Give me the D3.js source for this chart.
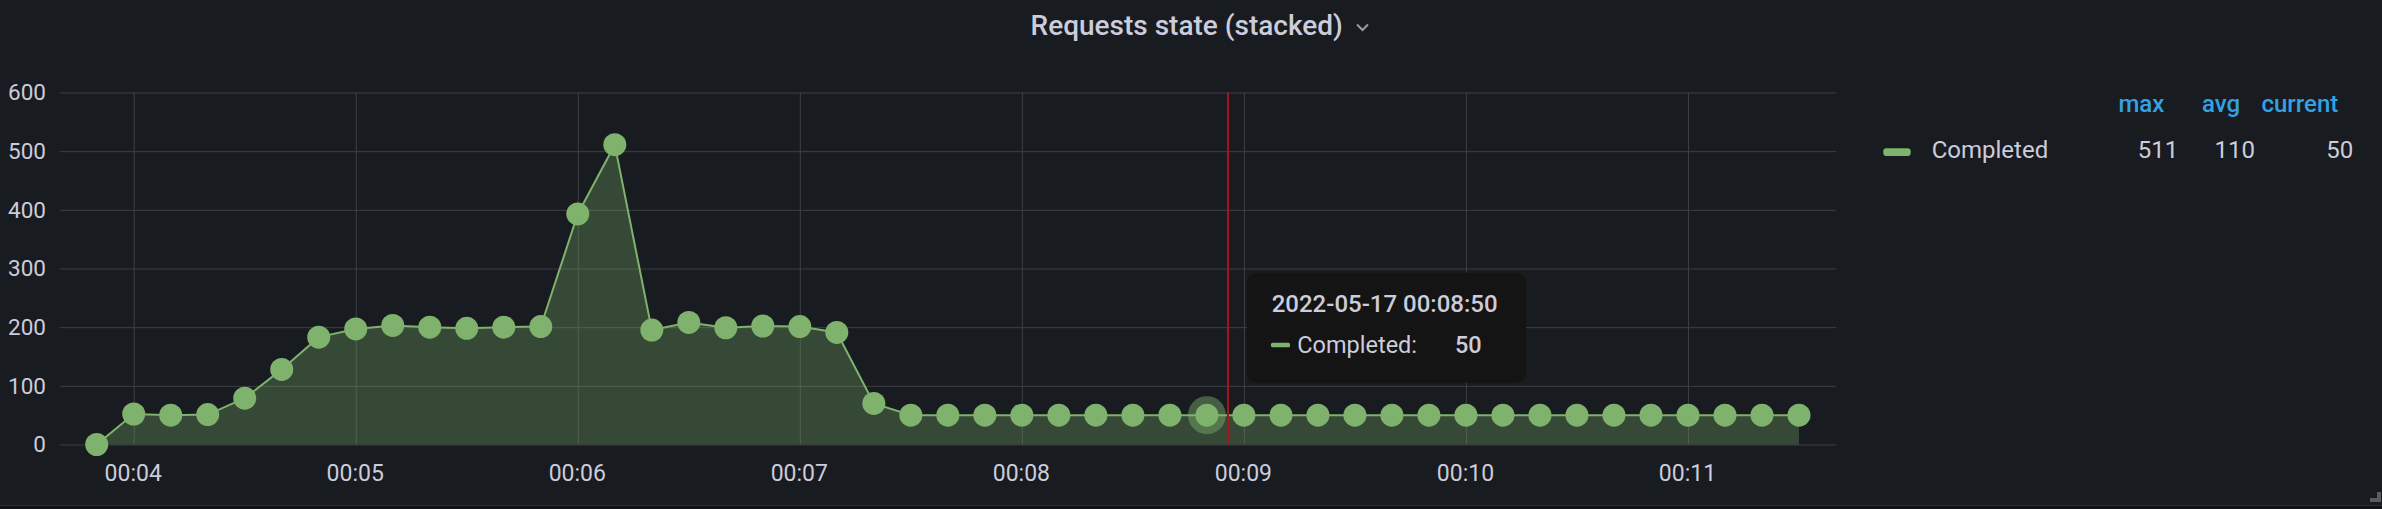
<!DOCTYPE html>
<html>
<head>
<meta charset="utf-8">
<script src="https://cdn.jsdelivr.net/npm/d3@7"></script>
<style>
  html, body { margin: 0; padding: 0; background: #181b1f; }
  svg { display: block; font-family: Roboto, "Noto Sans", sans-serif; }
</style>
</head>
<body>
<svg id="chart" width="2382" height="509"></svg>
<script>
// ---- data ----
const day = "2022-05-17";
const times = [
  "00:03:50","00:04:00","00:04:10","00:04:20","00:04:30","00:04:40","00:04:50",
  "00:05:00","00:05:10","00:05:20","00:05:30","00:05:40","00:05:50",
  "00:06:00","00:06:10","00:06:20","00:06:30","00:06:40","00:06:50",
  "00:07:00","00:07:10","00:07:20","00:07:30","00:07:40","00:07:50",
  "00:08:00","00:08:10","00:08:20","00:08:30","00:08:40","00:08:50",
  "00:09:00","00:09:10","00:09:20","00:09:30","00:09:40","00:09:50",
  "00:10:00","00:10:10","00:10:20","00:10:30","00:10:40","00:10:50",
  "00:11:00","00:11:10","00:11:20","00:11:30"
];
const completed = [
  0, 52, 50, 51, 79, 128, 183,
  197, 203, 200, 198, 200, 201,
  393, 511, 195, 208, 199, 202,
  201, 191, 70, 50, 50, 50,
  50, 50, 50, 50, 50, 50,
  50, 50, 50, 50, 50, 50,
  50, 50, 50, 50, 50, 50,
  50, 50, 50, 50
];
const seriesName = "Completed";
const yTickValues = [0, 100, 200, 300, 400, 500, 600];
const xDomainTimes = ["00:03:40", "00:11:40"];
const hoverTime = "00:08:50";
const cursorTime = "00:08:55.7";
const title = "Requests state (stacked)";
const statHeaders = ["max", "avg", "current"];

// ---- setup ----
const parse = d3.timeParse("%Y-%m-%d %H:%M:%S");
const parseCursor = s => { const [hms, frac] = s.split("."); return new Date(parse(day + " " + hms).getTime() + (frac ? +("0." + frac) * 1000 : 0)); };
const data = times.map((t, i) => ({ t: parse(day + " " + t), v: completed[i] }));

const svg = d3.select("#chart");
const W = 2382, H = 509;
const plot = { left: 59.7, right: 1836, top: 92.5, bottom: 444.5 };

const x = d3.scaleTime()
  .domain(xDomainTimes.map(s => parse(day + " " + s)))
  .range([plot.left, plot.right]);
const y = d3.scaleLinear().domain([0, 600]).range([plot.bottom, plot.top]);

const green = "#7eb26d";
const gridColor = "#3d3f44";
const textColor = "#ccccdc";

// background and bottom border
svg.append("rect").attr("x", 0).attr("y", 0).attr("width", W).attr("height", H).attr("fill", "#181b1f");
svg.append("rect").attr("x", 0).attr("y", 505).attr("width", W).attr("height", 1).attr("fill", "#2a2d33");
svg.append("rect").attr("x", 0).attr("y", 506).attr("width", W).attr("height", 3).attr("fill", "#111217");

// title
svg.append("text")
  .attr("x", 1186.7).attr("y", 35)
  .attr("text-anchor", "middle")
  .attr("font-size", 28).attr("font-weight", 500)
  .attr("fill", textColor)
  .text(title);
svg.append("path")
  .attr("d", "M1357,24.5 L1362.5,30 L1368,24.5")
  .attr("fill", "none").attr("stroke", "#9a9ca3").attr("stroke-width", 2);

// grid: horizontal
const gY = svg.append("g").attr("transform", `translate(${plot.left},0)`)
  .call(d3.axisLeft(y).tickValues(yTickValues).tickSize(-(plot.right - plot.left)).tickFormat(""));
gY.select(".domain").remove();
gY.selectAll("line").attr("stroke", gridColor).attr("stroke-width", 1);

// grid: vertical
const gX = svg.append("g").attr("transform", `translate(0,${plot.bottom})`)
  .call(d3.axisBottom(x).ticks(d3.timeMinute.every(1)).tickSize(-(plot.bottom - plot.top)).tickFormat(""));
gX.select(".domain").remove();
gX.selectAll("line").attr("stroke", gridColor).attr("stroke-width", 1);

// axis labels
const yLab = svg.append("g").attr("transform", `translate(46,0)`)
  .call(d3.axisLeft(y).tickValues(yTickValues).tickSize(0).tickPadding(0));
yLab.select(".domain").remove();
yLab.selectAll("text").attr("fill", textColor).attr("font-size", 22.5)
  .attr("font-family", "Roboto").attr("text-anchor", "end");

const xLab = svg.append("g").attr("transform", `translate(-1,${plot.bottom})`)
  .call(d3.axisBottom(x).ticks(d3.timeMinute.every(1)).tickFormat(d3.timeFormat("%H:%M")).tickSize(0).tickPadding(20));
xLab.select(".domain").remove();
xLab.selectAll("text").attr("fill", textColor).attr("font-size", 23).attr("font-family", "Roboto");

// area + line
const area = d3.area().x(d => x(d.t)).y0(y(0)).y1(d => y(d.v));
const line = d3.line().x(d => x(d.t)).y(d => y(d.v));
svg.append("path").datum(data).attr("d", area).attr("fill", green).attr("fill-opacity", 0.3);
svg.append("path").datum(data).attr("d", line).attr("fill", "none").attr("stroke", green).attr("stroke-width", 2);

// hover halo
const hoverDate = parse(day + " " + hoverTime);
const hoverIdx = data.findIndex(d => +d.t === +hoverDate);
const hp = data[hoverIdx];
svg.append("circle").attr("cx", x(hp.t)).attr("cy", y(hp.v)).attr("r", 19)
  .attr("fill", green).attr("fill-opacity", 0.45);

// points
svg.append("g").selectAll("circle").data(data).join("circle")
  .attr("cx", d => x(d.t)).attr("cy", d => y(d.v)).attr("r", 11.5)
  .attr("fill", green);

// crosshair
const cx = x(parseCursor(cursorTime));
svg.append("line").attr("x1", cx).attr("x2", cx).attr("y1", plot.top).attr("y2", plot.bottom)
  .attr("stroke", "#a8141a").attr("stroke-width", 2);

// tooltip
const tt = svg.append("g").attr("transform", `translate(${cx + 19},272.7)`);
tt.append("rect").attr("width", 279).attr("height", 110).attr("rx", 10).attr("fill", "#141414");
tt.append("text").attr("x", 24.7).attr("y", 39)
  .attr("font-size", 24).attr("font-weight", 500).attr("fill", textColor)
  .text(d3.timeFormat("%Y-%m-%d %H:%M:%S")(hp.t));
tt.append("rect").attr("x", 24).attr("y", 70).attr("width", 19).attr("height", 4.5).attr("rx", 1.5).attr("fill", green);
tt.append("text").attr("x", 50.3).attr("y", 80.6)
  .attr("font-size", 23.5).attr("fill", textColor).text(seriesName + ":");
tt.append("text").attr("x", 234.7).attr("y", 80.6).attr("text-anchor", "end")
  .attr("font-size", 23.5).attr("font-weight", 500).attr("fill", textColor).text(hp.v);

// legend
const stats = [d3.max(completed), Math.round(d3.mean(completed)), completed[completed.length - 1]];
const headerRight = [2164.3, 2240, 2338.3];
const valueRight = [2178.3, 2255, 2353.3];
const lg = svg.append("g");
lg.selectAll("text.h").data(statHeaders).join("text").attr("class", "h")
  .attr("x", (d, i) => headerRight[i]).attr("y", 111.7).attr("text-anchor", "end")
  .attr("font-size", 24).attr("font-weight", 500).attr("fill", "#33a2e5").text(d => d);
lg.append("rect").attr("x", 1883.3).attr("y", 148.3).attr("width", 27.4).attr("height", 7.6).attr("rx", 3)
  .attr("fill", green);
lg.append("text").attr("x", 1931.7).attr("y", 157.7).attr("font-size", 24).attr("fill", textColor).text(seriesName);
lg.selectAll("text.v").data(stats).join("text").attr("class", "v")
  .attr("x", (d, i) => valueRight[i]).attr("y", 157.7).attr("text-anchor", "end")
  .attr("font-size", 24).attr("fill", textColor).text(d => d);

// resize handle
svg.append("path").attr("d", "M2377,492 L2381,492 L2381,502 L2370,502 L2370,498 L2377,498 Z").attr("fill", "#5a5c61");
</script>
</body>
</html>
